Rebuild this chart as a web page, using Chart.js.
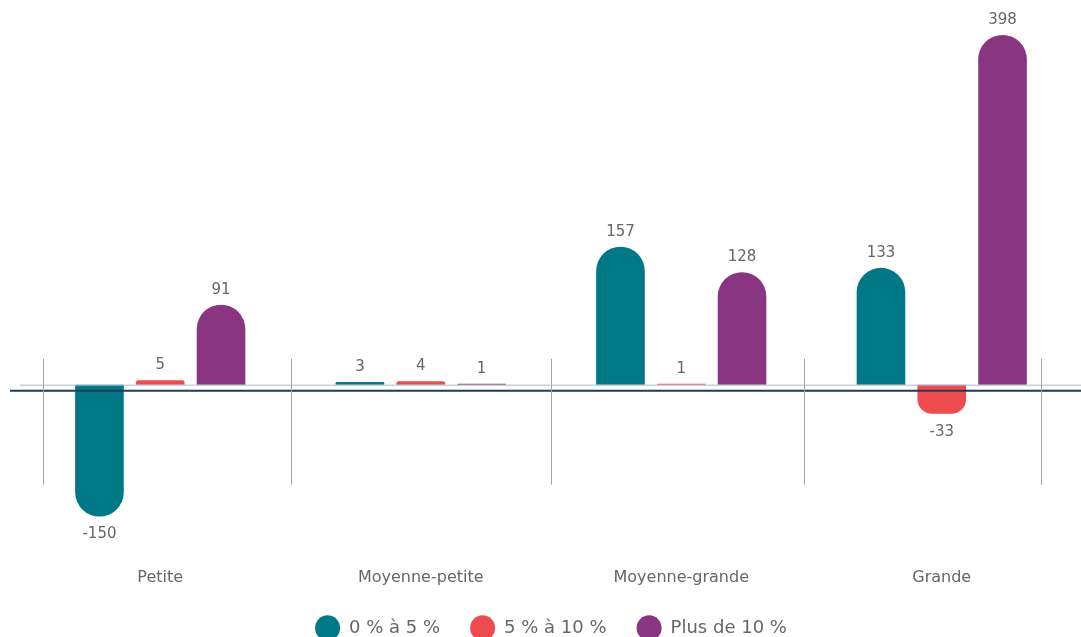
<!DOCTYPE html>
<html>
<head>
<meta charset="utf-8">
<script src="https://cdn.jsdelivr.net/npm/chart.js@4"></script>
<style>
  html, body { margin: 0; padding: 0; background: #fff; }
  #wrap { width: 1081px; height: 637px; }
</style>
</head>
<body>
<div id="wrap"><canvas id="chart"></canvas></div>
<script>
// données
const categories = ['Petite', 'Moyenne-petite', 'Moyenne-grande', 'Grande'];
const seriesNames = ['0 % à 5 %', '5 % à 10 %', 'Plus de 10 %'];
const serie0a5 = [-150, 3, 157, 133];
const serie5a10 = [5, 4, 1, -33];
const serie10plus = [91, 1, 128, 398];
const colors = ['#007885', '#ee4b4f', '#8a3581'];

const FONT = '"DejaVu Sans", sans-serif';

// étiquettes de valeur au-dessus / en dessous des barres
const valueLabels = {
    id: 'valueLabels',
    afterDatasetsDraw(chart) {
        const ctx = chart.ctx;
        ctx.save();
        ctx.font = '15px ' + FONT;
        ctx.fillStyle = '#666';
        ctx.textAlign = 'center';
        ctx.textBaseline = 'middle';
        chart.data.datasets.forEach((ds, i) => {
            chart.getDatasetMeta(i).data.forEach((bar, j) => {
                const v = ds.data[j];
                const y = v >= 0 ? bar.y - 15 : bar.y + 18;
                ctx.fillText(String(v), bar.x, y);
            });
        });
        ctx.restore();
    }
};

// lignes horizontales et séparateurs verticaux
const decor = {
    id: 'decor',
    afterDatasetsDraw(chart) {
        const ctx = chart.ctx;
        const x = chart.scales.x;
        const y0 = chart.scales.y.getPixelForValue(0);
        ctx.save();
        ctx.strokeStyle = '#a8bccb';
        ctx.lineWidth = 1;
        ctx.beginPath();
        ctx.moveTo(20, y0 + 0.5);
        ctx.lineTo(1081, y0 + 0.5);
        ctx.stroke();

        ctx.strokeStyle = '#1d3b5c';
        ctx.lineWidth = 2;
        ctx.beginPath();
        ctx.moveTo(10, y0 + 6);
        ctx.lineTo(1081, y0 + 6);
        ctx.stroke();

        const step = x.getPixelForValue(1) - x.getPixelForValue(0);
        const xs = [x.getPixelForValue(0) - step * 0.45];
        for (let i = 0; i < categories.length - 1; i++) {
            xs.push((x.getPixelForValue(i) + x.getPixelForValue(i + 1)) / 2 + (i === 2 ? -8 : 0));
        }
        xs.push(x.getPixelForValue(categories.length - 1) + step * 0.38);
        ctx.strokeStyle = '#9aa6b2';
        ctx.lineWidth = 1;
        xs.forEach(px => {
            ctx.beginPath();
            ctx.moveTo(Math.round(px) + 0.5, y0 - 26);
            ctx.lineTo(Math.round(px) + 0.5, y0 + 100);
            ctx.stroke();
        });
        ctx.restore();
    }
};

const ctx = document.getElementById('chart').getContext('2d');
new Chart(ctx, {
    type: 'bar',
    data: {
        labels: categories,
        datasets: [serie0a5, serie5a10, serie10plus].map((d, i) => ({
            label: seriesNames[i],
            data: d,
            backgroundColor: colors[i],
            borderRadius: 25,
            borderSkipped: 'start',
            categoryPercentage: 0.7,
            barPercentage: 0.8
        }))
    },
    options: {
        responsive: true,
        maintainAspectRatio: false,
        animation: false,
        layout: { padding: { top: 20, left: 30, right: 9, bottom: -10 } },
        scales: {
            x: {
                grid: { display: false },
                border: { display: false },
                ticks: { color: '#666', font: { family: FONT, size: 16 }, padding: 2 }
            },
            y: {
                display: false,
                min: -197,
                max: 415
            }
        },
        plugins: {
            legend: {
                position: 'bottom',
                labels: {
                    usePointStyle: true,
                    pointStyle: 'circle',
                    pointStyleWidth: 25,
                    color: '#666',
                    font: { family: FONT, size: 18 },
                    padding: 30
                }
            },
            tooltip: { enabled: false }
        }
    },
    plugins: [valueLabels, decor]
});
</script>
</body>
</html>
